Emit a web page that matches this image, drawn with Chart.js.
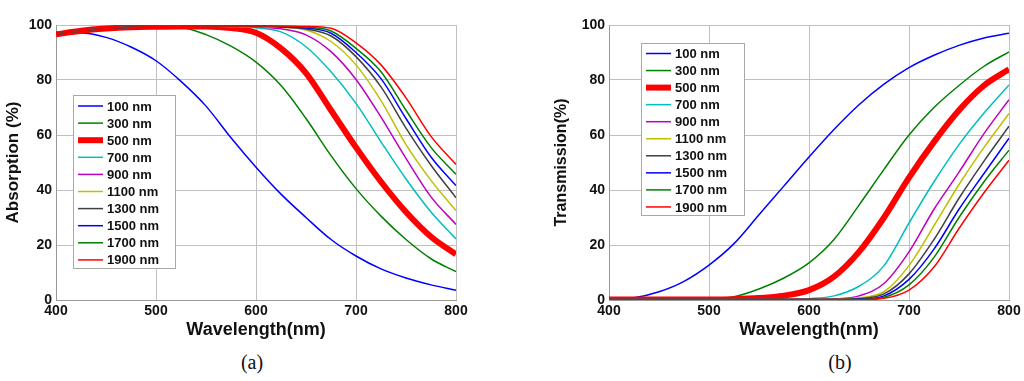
<!DOCTYPE html>
<html>
<head>
<meta charset="utf-8">
<script src="https://cdn.jsdelivr.net/npm/chart.js@4.4.1/dist/chart.umd.min.js"></script>
<style>
  html, body { margin: 0; padding: 0; background: #fff; }
  #wrap { position: relative; width: 1024px; height: 381px; overflow: hidden; }
  canvas { position: absolute; top: 0; }
  #chartA { left: 0; }
  #chartB { left: 520px; }
  .cap {
    position: absolute; top: 350px; line-height: 24px;
    font-family: "Liberation Serif", "DejaVu Serif", serif; font-size: 20px;
    transform: translateX(-50%); color: #111;
  }
</style>
</head>
<body>
<div id="wrap">
  <canvas id="chartA" width="471" height="350"></canvas>
  <canvas id="chartB" width="504" height="350"></canvas>
  <div class="cap" style="left:252px">(a)</div>
  <div class="cap" style="left:840px">(b)</div>
</div>
<script>
// wavelength samples (nm)
const wavelengths = [400, 425, 450, 475, 500, 525, 550, 575, 600, 625, 650, 675, 700, 725, 750, 775, 800];
const thicknessLabels = ["100 nm", "300 nm", "500 nm", "700 nm", "900 nm", "1100 nm", "1300 nm", "1500 nm", "1700 nm", "1900 nm"];
const xTicks = [400, 500, 600, 700, 800];
const yTicks = [0, 20, 40, 60, 80, 100];

// (a) absorption, %
const abs100  = [97.3, 97.2, 95.5, 92.0, 87.0, 79.5, 70.5, 59.0, 48.3, 38.5, 30.0, 22.0, 16.0, 11.3, 8.0, 5.5, 3.5];
const abs300  = [96.6, 97.9, 98.7, 99.2, 99.4, 99.1, 96.5, 92.3, 86.5, 78.0, 66.0, 52.5, 40.5, 30.5, 22.0, 15.0, 10.3];
const abs500  = [96.6, 97.9, 98.7, 99.2, 99.4, 99.5, 99.5, 98.9, 97.2, 91.5, 82.5, 69.0, 55.5, 43.0, 32.0, 23.0, 16.6];
const abs700  = [96.6, 97.9, 98.7, 99.2, 99.4, 99.5, 99.6, 99.4, 99.0, 97.5, 92.1, 83.0, 71.5, 57.5, 44.0, 32.0, 22.2];
const abs900  = [96.6, 97.9, 98.7, 99.2, 99.4, 99.5, 99.6, 99.6, 99.3, 98.6, 96.4, 90.3, 80.2, 66.5, 51.5, 37.5, 27.5];
const abs1100 = [96.6, 97.9, 98.7, 99.2, 99.4, 99.5, 99.6, 99.6, 99.5, 99.2, 98.2, 94.0, 85.5, 72.5, 56.5, 43.5, 32.5];
const abs1300 = [96.6, 97.9, 98.7, 99.2, 99.4, 99.5, 99.6, 99.6, 99.6, 99.3, 98.5, 96.0, 88.5, 77.5, 62.5, 49.0, 37.2];
const abs1500 = [96.6, 97.9, 98.7, 99.2, 99.4, 99.5, 99.6, 99.6, 99.6, 99.4, 98.9, 97.0, 90.0, 80.5, 66.0, 52.0, 41.6];
const abs1700 = [96.6, 97.9, 98.7, 99.2, 99.4, 99.5, 99.6, 99.6, 99.6, 99.5, 99.2, 97.8, 91.5, 83.0, 69.0, 55.5, 45.7];
const abs1900 = [96.6, 97.9, 98.7, 99.2, 99.4, 99.5, 99.6, 99.6, 99.6, 99.6, 99.5, 98.8, 93.5, 85.5, 73.5, 59.5, 49.3];

// (b) transmission, %
const tr100  = [0.3, 0.8, 3.0, 6.8, 12.7, 20.5, 31.0, 41.5, 52.0, 62.0, 71.0, 78.5, 84.5, 89.0, 92.6, 95.3, 97.0];
const tr300  = [0.2, 0.2, 0.2, 0.3, 0.4, 1.2, 4.0, 8.0, 13.5, 22.0, 34.5, 47.5, 60.0, 70.0, 78.0, 85.0, 90.2];
const tr500  = [0.2, 0.2, 0.2, 0.2, 0.2, 0.3, 0.7, 1.6, 3.6, 8.5, 17.5, 30.0, 44.5, 57.5, 69.0, 78.0, 83.9];
const tr700  = [0.2, 0.2, 0.2, 0.2, 0.2, 0.2, 0.2, 0.2, 0.5, 1.5, 5.0, 12.5, 28.0, 43.0, 56.5, 68.0, 78.2];
const tr900  = [0.2, 0.2, 0.2, 0.2, 0.2, 0.2, 0.2, 0.2, 0.2, 0.4, 1.5, 6.0, 17.5, 33.0, 46.5, 60.5, 72.8];
const tr1100 = [0.2, 0.2, 0.2, 0.2, 0.2, 0.2, 0.2, 0.2, 0.2, 0.3, 0.8, 3.0, 12.5, 27.0, 42.0, 55.5, 67.8];
const tr1300 = [0.2, 0.2, 0.2, 0.2, 0.2, 0.2, 0.2, 0.2, 0.2, 0.2, 0.5, 2.2, 9.5, 22.0, 37.0, 50.5, 63.2];
const tr1500 = [0.2, 0.2, 0.2, 0.2, 0.2, 0.2, 0.2, 0.2, 0.2, 0.2, 0.3, 1.5, 7.5, 18.5, 33.0, 46.0, 58.8];
const tr1700 = [0.2, 0.2, 0.2, 0.2, 0.2, 0.2, 0.2, 0.2, 0.2, 0.2, 0.2, 1.0, 5.5, 15.5, 30.0, 43.0, 54.5];
const tr1900 = [0.2, 0.2, 0.2, 0.2, 0.2, 0.2, 0.2, 0.2, 0.2, 0.2, 0.1, 0.6, 3.6, 12.0, 26.0, 39.0, 50.8];

const absSeries = [abs100, abs300, abs500, abs700, abs900, abs1100, abs1300, abs1500, abs1700, abs1900];
const trSeries = [tr100, tr300, tr500, tr700, tr900, tr1100, tr1300, tr1500, tr1700, tr1900];

// matlab-ish line colours
const lineColors = ["#0000ff", "#008000", "#ff0000", "#00bfbf", "#bf00bf", "#bfbf00", "#404040", "#0000ff", "#008000", "#ff0000"];
const lineWidths = [1.5, 1.5, 6, 1.5, 1.5, 1.5, 1.5, 1.5, 1.5, 1.5];

const SANS = "'Liberation Sans', Arial, sans-serif";

// legend drawn inside the plot area, like the matlab box
const boxLegend = {
  id: "boxLegend",
  afterDatasetsDraw(chart, args, o) {
    const ctx = chart.ctx;
    ctx.save();
    ctx.fillStyle = "#fff";
    ctx.fillRect(o.x, o.y, o.w, o.h);
    ctx.strokeStyle = "#a8a8a8";
    ctx.lineWidth = 1;
    ctx.strokeRect(o.x + 0.5, o.y + 0.5, o.w, o.h);
    ctx.font = "bold 13px " + SANS;
    ctx.textBaseline = "middle";
    chart.data.datasets.forEach((ds, i) => {
      const y = o.rowY + i * o.rowStep;
      ctx.strokeStyle = ds.borderColor;
      ctx.lineWidth = ds.borderWidth;
      ctx.beginPath();
      ctx.moveTo(o.x + 5, y);
      ctx.lineTo(o.x + 30, y);
      ctx.stroke();
      ctx.fillStyle = "#111";
      ctx.fillText(ds.label, o.x + 34, y + 1);
    });
    ctx.restore();
  }
};

function makeChart(id, series, yTitle, yTitleSize, yWidth, padLeft, legendBox) {
  const datasets = series.map((vals, i) => ({
    label: thicknessLabels[i],
    data: wavelengths.map((w, k) => ({ x: w, y: vals[k] })),
    borderColor: lineColors[i],
    borderWidth: lineWidths[i],
    pointRadius: 0,
    cubicInterpolationMode: "monotone",
    order: -i
  }));

  return new Chart(document.getElementById(id), {
    type: "line",
    data: { datasets },
    options: {
      responsive: false,
      animation: false,
      devicePixelRatio: 1,
      layout: { padding: { left: padLeft, right: 15, top: 25, bottom: 0 } },
      plugins: {
        legend: { display: false },
        tooltip: { enabled: false },
        boxLegend: legendBox
      },
      scales: {
        x: {
          type: "linear", min: 400, max: 800,
          afterBuildTicks: s => { s.ticks = xTicks.map(v => ({ value: v })); },
          afterFit: s => { s.height = 50; },
          grid: { color: "#c0c0c0", drawTicks: false },
          border: { color: "#999" },
          ticks: { color: "#111", padding: 3, font: { family: SANS, size: 14, weight: "bold" } },
          title: {
            display: true, text: "Wavelength(nm)", color: "#111",
            font: { family: SANS, size: 18, weight: "bold" },
            padding: { top: 0, bottom: 9 }
          }
        },
        y: {
          min: 0, max: 100,
          afterBuildTicks: s => { s.ticks = yTicks.map(v => ({ value: v })); },
          afterFit: s => { s.width = yWidth; },
          grid: { color: "#c0c0c0", drawTicks: false },
          border: { color: "#999" },
          ticks: { color: "#111", padding: 4, font: { family: SANS, size: 14, weight: "bold" } },
          title: {
            display: true, text: yTitle, color: "#111",
            font: { family: SANS, size: yTitleSize, weight: "bold" },
            padding: { top: 3, bottom: 0 }
          }
        }
      }
    },
    plugins: [boxLegend]
  });
}

makeChart("chartA", absSeries, "Absorption (%)", 17, 56, 0,
  { x: 73, y: 95, w: 102, h: 173, rowY: 106, rowStep: 17.1 });
makeChart("chartB", trSeries, "Transmission(%)", 16, 60, 29,
  { x: 121, y: 43, w: 103, h: 172, rowY: 53.5, rowStep: 17.05 });
</script>
</body>
</html>
